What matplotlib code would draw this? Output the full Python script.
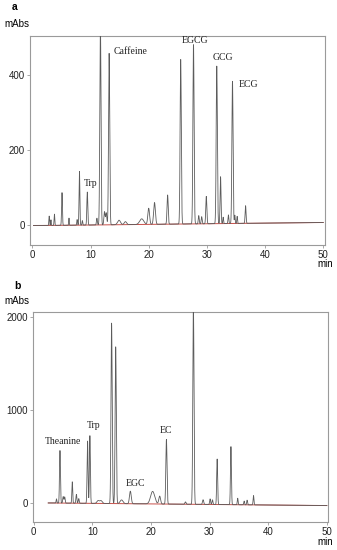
import numpy as np
import matplotlib
matplotlib.use("Agg")
import matplotlib.pyplot as plt

# ---------------- Data ----------------
# Panel a: peak retention times (min), heights (mAbs), widths (min, sigma)
a_times = [2.9, 3.2, 3.8, 5.1, 6.3, 7.7, 8.1, 8.6, 9.45, 11.1, 11.7, 12.4, 12.7, 13.2,
           14.9, 16.0, 18.8, 20.0, 21.0, 23.25, 25.5, 27.7, 28.6, 29.1, 29.9, 31.7,
           32.35, 32.8, 33.7, 34.4, 34.8, 35.2, 36.65]
a_heights = [25, 15, 30, 87, 19, 15, 143, 12, 88, 18, 540, 35, 32, 457,
             12, 8, 15, 43, 58, 78, 439, 478, 22, 19, 73, 420,
             125, 17, 23, 379, 22, 19, 47]
a_widths = [0.06, 0.05, 0.06, 0.07, 0.05, 0.06, 0.07, 0.06, 0.08, 0.08, 0.1, 0.1, 0.1, 0.1,
            0.25, 0.2, 0.35, 0.15, 0.15, 0.1, 0.1, 0.1, 0.08, 0.08, 0.09, 0.1,
            0.08, 0.06, 0.07, 0.1, 0.06, 0.06, 0.08]
a_baseline_end = 8  # drift at 50 min
a_labels = ["Trp", "Caffeine", "EGCG", "GCG", "ECG"]
a_label_x = [8.8, 14.0, 25.7, 31.0, 35.45]
a_label_y = [112, 464, 494, 447, 376]

# Panel b
b_times = [3.9, 4.5, 5.05, 5.3, 6.6, 7.3, 7.7, 9.2, 9.6, 11.0, 11.5, 13.3, 14.0,
           15.0, 16.5, 20.3, 21.5, 22.65, 25.9, 27.25, 28.9, 30.1, 30.5, 31.3,
           33.65, 34.8, 35.9, 36.4, 37.5]
b_heights = [45, 565, 70, 67, 230, 95, 50, 670, 728, 30, 30, 1942, 1687,
             40, 135, 135, 85, 695, 25, 2150, 50, 60, 50, 490,
             625, 70, 40, 50, 100]
b_widths = [0.06, 0.08, 0.08, 0.08, 0.07, 0.08, 0.08, 0.08, 0.08, 0.2, 0.2, 0.1, 0.1,
            0.25, 0.15, 0.35, 0.15, 0.1, 0.1, 0.1, 0.1, 0.08, 0.08, 0.08,
            0.08, 0.07, 0.07, 0.07, 0.07]
b_baseline_end = -28
b_labels = ["Theanine", "Trp", "EGC", "EC"]
b_label_x = [1.9, 9.0, 15.7, 21.5]
b_label_y = [657, 837, 205, 785]

x_ticks = [0, 10, 20, 30, 40, 50]
a_yticks = [0, 200, 400]
b_yticks = [0, 1000, 2000]


def trace(t, times, heights, widths, start, end_drift):
    y = np.zeros_like(t)
    for c, h, w in zip(times, heights, widths):
        y += h * np.exp(-0.5 * ((t - c) / w) ** 2)
    base = np.where(t >= start, end_drift * (t - start) / (50 - start), 0.0)
    return y + base, base


plt.rcParams['font.family'] = ['Liberation Sans', 'DejaVu Sans']
fig = plt.figure(figsize=(3.37, 5.5), dpi=100)
W, H = 337, 550

spine_col = '#9a9a9a'
line_col = '#5c5c5c'
red_col = '#c8504a'
serif = ['Liberation Serif', 'DejaVu Serif']


def setup(ax, ylim, yticks, xlim):
    ax.set_xlim(*xlim)
    ax.set_ylim(*ylim)
    ax.set_xticks(x_ticks)
    ax.set_yticks(yticks)
    for s in ax.spines.values():
        s.set_color(spine_col)
        s.set_linewidth(0.8)
    ax.tick_params(length=2, width=0.6, color=spine_col, labelsize=7,
                   labelcolor='#222222', pad=1.5)


# Panel a
axa = fig.add_axes([30 / W, 1 - 245 / H, 295 / W, 209 / H])
t = np.linspace(0, 50, 6000)
ya, ba = trace(t, a_times, a_heights, a_widths, 2.5, a_baseline_end)
mask = t >= 0.2
axa.plot(t[mask], ba[mask], color=red_col, lw=0.7, zorder=2)
axa.plot(t[mask], ya[mask], color=line_col, lw=0.6, zorder=3)
setup(axa, (-52, 505), a_yticks, (-0.4, 50.3))
for lab, lx, ly in zip(a_labels, a_label_x, a_label_y):
    axa.text(lx, ly, lab, family=serif, fontsize=7, va='center', ha='left', color='#222222')

fig.text(15 / W, 1 - 7 / H, 'a', fontsize=7.5, fontweight='bold', ha='center', va='center')
fig.text(17 / W, 1 - 24 / H, 'mAbs', fontsize=7, ha='center', va='center')
fig.text(325 / W, 1 - 259 / H, 'min', fontsize=7, ha='center', va='top')

# Panel b
axb = fig.add_axes([33 / W, 1 - 522 / H, 295 / W, 210 / H])
yb, bb = trace(t, b_times, b_heights, b_widths, 2.5, b_baseline_end)
maskb = t >= 2.5
axb.plot(t[maskb], bb[maskb], color=red_col, lw=0.7, zorder=2)
axb.plot(t[maskb], yb[maskb], color=line_col, lw=0.6, zorder=3)
setup(axb, (-205, 2055), b_yticks, (-0.1, 50.2))
for lab, lx, ly in zip(b_labels, b_label_x, b_label_y):
    axb.text(lx, ly, lab, family=serif, fontsize=7, va='center', ha='left', color='#222222')

fig.text(17 / W, 1 - 286 / H, 'b', fontsize=7.5, fontweight='bold', ha='center', va='center')
fig.text(17 / W, 1 - 301 / H, 'mAbs', fontsize=7, ha='center', va='center')
fig.text(325 / W, 1 - 537 / H, 'min', fontsize=7, ha='center', va='top')

fig.savefig('out.png', dpi=100)
